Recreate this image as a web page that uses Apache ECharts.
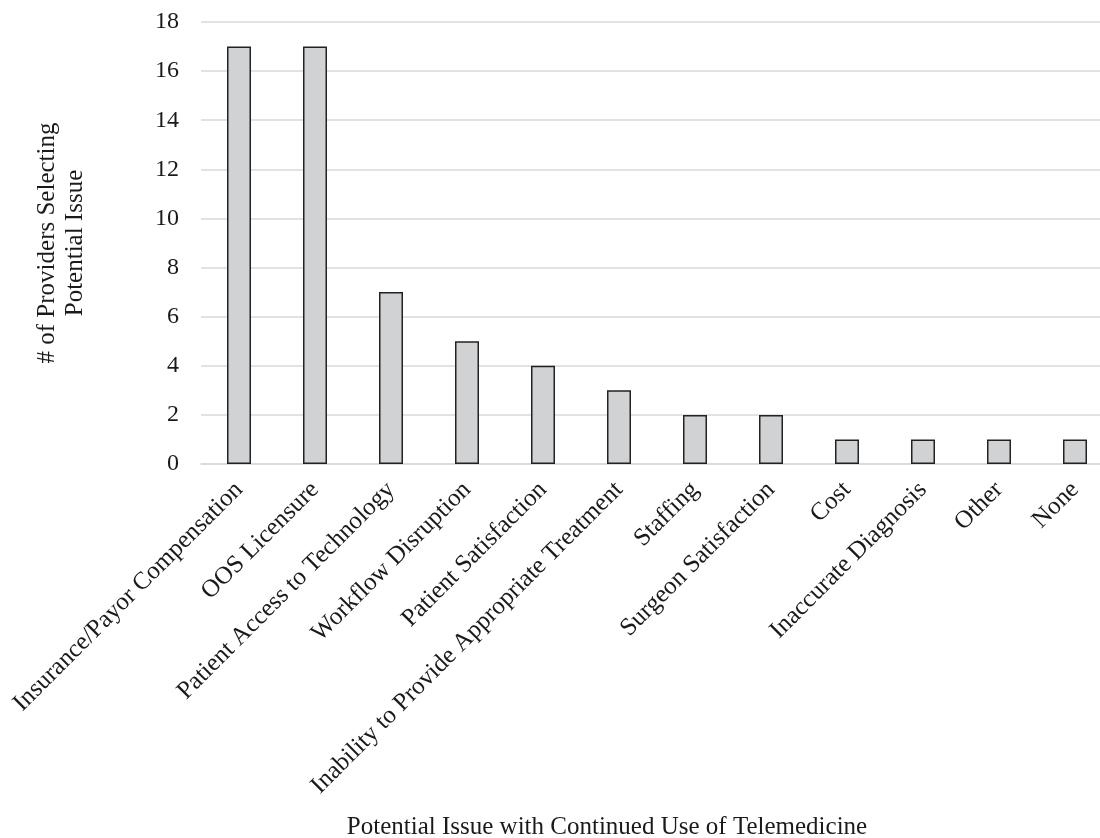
<!DOCTYPE html>
<html>
<head>
<meta charset="utf-8">
<style>
  html, body { margin: 0; padding: 0; background: #ffffff; }
  #chart { width: 1100px; height: 838px; }
</style>
<script src="https://cdn.jsdelivr.net/npm/echarts@6/dist/echarts.min.js"></script>
</head>
<body>
<div id="chart"></div>
<script>
// Potential issues reported by providers
const categories = [
  'Insurance/Payor Compensation',
  'OOS Licensure',
  'Patient Access to Technology',
  'Workflow Disruption',
  'Patient Satisfaction',
  'Inability to Provide Appropriate Treatment',
  'Staffing',
  'Surgeon Satisfaction',
  'Cost',
  'Inaccurate Diagnosis',
  'Other',
  'None'
];
const providerCounts = [17, 17, 7, 5, 4, 3, 2, 2, 1, 1, 1, 1];
const yTicks = { min: 0, max: 18, interval: 2 };

const fontFamily = '"Liberation Serif", "Times New Roman", serif';
const textColor = '#1a1a1a';
const chart = echarts.init(document.getElementById('chart'), null, { renderer: 'canvas' });

chart.setOption({
  backgroundColor: '#ffffff',
  animation: false,
  grid: {
    left: 201, right: -13, top: 22, bottom: 374,
    containLabel: false,
    outerBoundsMode: 'none'
  },
  xAxis: {
    type: 'category',
    data: categories,
    name: 'Potential Issue with Continued Use of Telemedicine',
    nameLocation: 'middle',
    nameGap: 351,
    nameTextStyle: { fontFamily, fontSize: 25, color: textColor, padding: [0, 100, 0, 0] },
    axisLine: { show: true, lineStyle: { color: '#d9d9d9', width: 1.5 } },
    axisTick: { show: false },
    axisLabel: {
      interval: 0,
      rotate: 45,
      margin: 22,
      fontFamily,
      fontSize: 25,
      color: textColor
    }
  },
  yAxis: {
    type: 'value',
    min: yTicks.min,
    max: yTicks.max,
    interval: yTicks.interval,
    name: '# of Providers Selecting\nPotential Issue',
    nameLocation: 'middle',
    nameGap: 112,
    nameRotate: 90,
    nameTextStyle: { fontFamily, fontSize: 25, color: textColor, lineHeight: 28 },
    axisLine: { show: false },
    axisTick: { show: false },
    axisLabel: { margin: 22, fontFamily, fontSize: 24, color: textColor },
    splitLine: { show: true, lineStyle: { color: '#d9d9d9', width: 1.5 } }
  },
  series: [{
    type: 'bar',
    data: providerCounts,
    barWidth: 24,
    itemStyle: { color: '#d1d2d4', borderColor: '#222222', borderWidth: 1.5 }
  }]
});
</script>
</body>
</html>
